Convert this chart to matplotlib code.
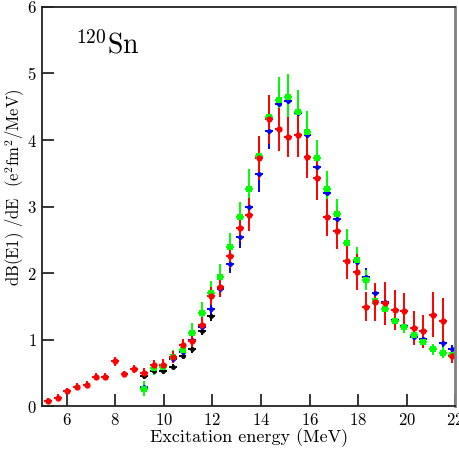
"""
Recreation of the 120Sn E1 strength distribution chart.
"""
import numpy as np
import matplotlib
matplotlib.use("Agg")
import matplotlib.pyplot as plt

plt.rcParams['font.family'] = ['cmr10', 'DejaVu Serif']
plt.rcParams['mathtext.fontset'] = 'cm'
plt.rcParams['axes.unicode_minus'] = False
plt.rcParams['axes.formatter.use_mathtext'] = True

# ── Data ──────────────────────────────────────────────────────────
red_e = [5.22, 5.63, 6.02, 6.41, 6.82, 7.19, 7.58, 7.99, 8.38, 8.78, 9.18,
         9.58, 9.97, 10.37, 10.77, 11.16, 11.56, 11.95, 12.33, 12.73, 13.12,
         13.52, 13.93, 14.32, 14.72, 15.11, 15.51, 15.91, 16.31, 16.73, 17.13,
         17.52, 17.93, 18.32, 18.71, 19.11, 19.51, 19.90, 20.30, 20.68, 21.08,
         21.48, 21.85]
red_v = [0.08, 0.13, 0.23, 0.30, 0.33, 0.45, 0.45, 0.68, 0.49, 0.57, 0.51,
         0.62, 0.63, 0.74, 0.92, 0.99, 1.23, 1.66, 1.80, 2.26, 2.68,
         2.88, 3.73, 4.31, 4.16, 4.04, 4.08, 3.75, 3.43, 2.84, 2.64,
         2.19, 2.02, 1.50, 1.57, 1.55, 1.45, 1.44, 1.18, 1.13, 1.38,
         1.28, 0.76]
red_err = [0.05, 0.05, 0.05, 0.05, 0.05, 0.05, 0.05, 0.07, 0.05, 0.06, 0.07,
           0.08, 0.09, 0.09, 0.10, 0.10, 0.12, 0.13, 0.15, 0.18, 0.20,
           0.25, 0.33, 0.37, 0.32, 0.30, 0.33, 0.32, 0.33, 0.28, 0.28,
           0.27, 0.27, 0.22, 0.29, 0.32, 0.30, 0.27, 0.25, 0.25, 0.34,
           0.35, 0.10]

green_e = red_e[10:]
green_v = [0.27, 0.58, 0.59, 0.75, 0.85, 1.11, 1.40, 1.70, 1.94, 2.40, 2.84,
           3.26, 3.76, 4.35, 4.60, 4.64, 4.42, 4.12, 3.73, 3.27, 2.89,
           2.45, 2.20, 1.90, 1.59, 1.46, 1.28, 1.20, 1.07, 0.97, 0.86,
           0.81, 0.78]
green_err = [0.12, 0.10, 0.10, 0.10, 0.10, 0.14, 0.17, 0.18, 0.20, 0.21, 0.23,
             0.30, 0.30, 0.32, 0.34, 0.35, 0.33, 0.31, 0.27, 0.27, 0.22,
             0.21, 0.20, 0.15, 0.13, 0.12, 0.11, 0.10, 0.09, 0.08, 0.08,
             0.08, 0.07]

blue_e = red_e[10:]
blue_v = [0.30, 0.58, 0.60, 0.72, 0.82, 1.00, 1.20, 1.47, 1.76, 2.14, 2.55,
          2.99, 3.49, 4.14, 4.54, 4.59, 4.40, 4.07, 3.59, 3.21, 2.82,
          2.45, 2.17, 1.95, 1.70, 1.57, 1.30, 1.21, 1.04, 1.02, 0.87,
          0.95, 0.86]
blue_err = [0.04, 0.04, 0.04, 0.05, 0.06, 0.07, 0.08, 0.10, 0.12, 0.14, 0.17,
            0.20, 0.27, 0.28, 0.30, 0.30, 0.29, 0.27, 0.24, 0.21, 0.19,
            0.16, 0.14, 0.13, 0.11, 0.10, 0.09, 0.08, 0.07, 0.07, 0.06,
            0.06, 0.06]

black_e = red_e[10:18]
black_v = [0.46, 0.54, 0.53, 0.60, 0.76, 0.86, 1.14, 1.36]
black_err = [0.04, 0.04, 0.04, 0.04, 0.05, 0.05, 0.06, 0.07]

xerr = 0.16

# ── Figure ────────────────────────────────────────────────────────
fig = plt.figure(figsize=(4.6, 4.51), dpi=100)
ax = fig.add_axes([0.092, 0.0987, 0.898, 0.886])

series = [
    (black_e, black_v, black_err, "black", "o", 3.5),
    (blue_e, blue_v, blue_err, "#0000ff", "o", 3.5),
    (green_e, green_v, green_err, "#00ff00", "s", 4.5),
    (red_e, red_v, red_err, "#ff0000", "o", 4.5),
]
for e, v, err, col, mk, ms in series:
    ax.errorbar(e, v, yerr=err, xerr=xerr, fmt=mk, color=col, ms=ms,
                mew=0, elinewidth=1.4, capsize=0)

ax.set_xlim(5, 22)
ax.set_ylim(0, 6)
ax.set_xticks(np.arange(6, 23, 2))
ax.set_yticks(np.arange(0, 7, 1))
ax.tick_params(direction="in", length=8.5, width=1.1, labelsize=12, pad=4)

for side in ["left", "bottom", "top"]:
    ax.spines[side].set_linewidth(1.3)
    ax.spines[side].set_color("#222222")
ax.spines["right"].set_linewidth(2.0)
ax.spines["right"].set_color("#808080")

ax.set_xlabel("Excitation energy (MeV)", fontsize=13, labelpad=0)
ax.set_ylabel(r"dB(E1) /dE  (e$^2$fm$^2$/MeV)", fontsize=12)
ax.yaxis.set_label_coords(-0.036, 0.55)

ax.text(0.08, 0.905, r"$^{120}$Sn", transform=ax.transAxes, fontsize=20,
        va="center", ha="left")

plt.savefig("out.png", dpi=100)
plt.close()
